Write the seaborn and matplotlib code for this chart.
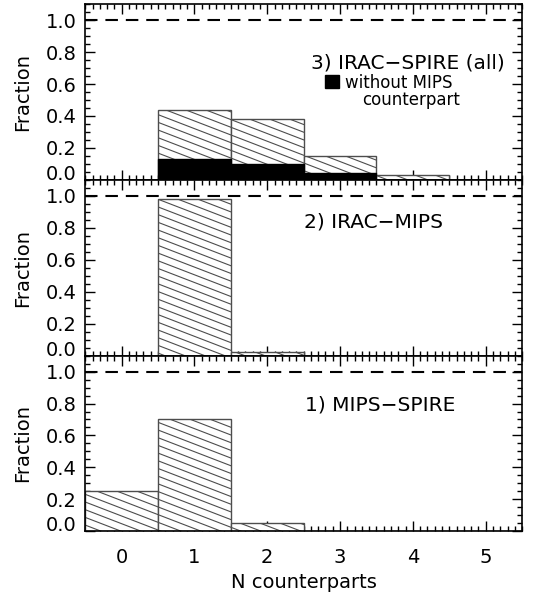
import numpy as np
import seaborn as sns
import matplotlib.pyplot as plt
import matplotlib.hatch as mhatch
from matplotlib.path import Path
from matplotlib.ticker import MultipleLocator, FormatStrFormatter

# ---------------------------------------------------------
# Data: fraction of sources vs number of counterparts
# ---------------------------------------------------------
n_cp = [0, 1, 2, 3, 4, 5]
frac_irac_spire = [0.0, 0.44, 0.38, 0.15, 0.03, 0.0]
frac_no_mips = [0.0, 0.13, 0.10, 0.04, 0.0, 0.0]
frac_irac_mips = [0.0, 0.98, 0.02, 0.0, 0.0, 0.0]
frac_mips_spire = [0.25, 0.70, 0.05, 0.0, 0.0, 0.0]

panel_titles = ["3) IRAC\u2212SPIRE (all)", "2) IRAC\u2212MIPS", "1) MIPS\u2212SPIRE"]
panel_fracs = [frac_irac_spire, frac_irac_mips, frac_mips_spire]
title_x = [2.6, 2.5, 2.52]
title_y = [0.73, 0.835, 0.79]


# ---------------------------------------------------------
# IDL-like shallow line fill (replaces the 45 deg '\' hatch)
# ---------------------------------------------------------
class ShallowHatch(mhatch.HatchPatternBase):
    def __init__(self, hatch, density):
        self.num_lines = 40 if "\\" in hatch else 0
        self.num_vertices = self.num_lines * 2

    def set_vertices_and_codes(self, vertices, codes):
        k = np.arange(self.num_lines) - 13
        vertices[0::2, 0] = -0.5
        vertices[0::2, 1] = k / 13 + 0.5 * 5 / 13
        vertices[1::2, 0] = 1.5
        vertices[1::2, 1] = k / 13 - 1.5 * 5 / 13
        codes[0::2] = Path.MOVETO
        codes[1::2] = Path.LINETO


mhatch._hatch_types = [ShallowHatch if h is mhatch.SouthEastHatch else h
                       for h in mhatch._hatch_types]

sns.set_style("ticks")
plt.rcParams["font.family"] = ["DejaVu Sans"]
plt.rcParams["hatch.linewidth"] = 0.8
for key in ["text.color", "axes.labelcolor", "xtick.color", "ytick.color", "axes.edgecolor"]:
    plt.rcParams[key] = "black"

fig = plt.figure(figsize=(5.36, 5.92), dpi=100)
axes = fig.subplots(3, 1, sharex=True)
fig.subplots_adjust(left=0.159, right=0.974, top=0.993, bottom=0.1025, hspace=0)

for ax, fr, title, tx, ty in zip(axes, panel_fracs, panel_titles, title_x, title_y):
    sns.barplot(x=n_cp, y=fr, ax=ax, native_scale=True, width=1, color="white",
                saturation=1, edgecolor="0.3", linewidth=1, hatch="\\", errorbar=None)
    ax.axhline(1.0, color="black", lw=1.5, ls=(0, (6, 3.8)))
    ax.text(tx, ty, title, fontsize=14.5, va="center", ha="left")

# black bars: sources without a MIPS counterpart
sns.barplot(x=n_cp, y=frac_no_mips, ax=axes[0], native_scale=True, width=1,
            color="black", saturation=1, edgecolor="black", linewidth=1,
            errorbar=None, label="without MIPS")
axes[0].legend(loc="upper left", bbox_to_anchor=(0.55, 0.605), frameon=False,
               fontsize=12, handlelength=0.8, handleheight=0.8,
               handletextpad=0.4, borderpad=0, borderaxespad=0)
axes[0].text(3.98, 0.50, "counterpart", fontsize=12, ha="center", va="center")

for ax in axes:
    ax.set_xlim(-0.5, 5.5)
    ax.set_ylim(0, 1.1)
    ax.yaxis.set_major_locator(MultipleLocator(0.2))
    ax.yaxis.set_minor_locator(MultipleLocator(0.05))
    ax.yaxis.set_major_formatter(FormatStrFormatter("%.1f"))
    ax.xaxis.set_major_locator(MultipleLocator(1))
    ax.xaxis.set_minor_locator(MultipleLocator(0.1))
    ax.tick_params(which="both", direction="in", top=True, right=True,
                   bottom=True, left=True, width=1, labelsize=14)
    ax.tick_params(which="major", length=7)
    ax.tick_params(which="minor", length=3.5)
    ax.tick_params(axis="x", pad=12)
    ax.tick_params(axis="y", pad=6)
    for s in ax.spines.values():
        s.set_linewidth(1.2)
    ax.set_ylabel("Fraction", fontsize=14, labelpad=10)
    for lab in ax.get_yticklabels():
        if lab.get_text() == "0.0":
            lab.set_va("baseline")

axes[-1].xaxis.set_major_formatter(FormatStrFormatter("%d"))
axes[-1].set_xlabel("N counterparts", fontsize=14)

plt.savefig("out.png", dpi=100)
